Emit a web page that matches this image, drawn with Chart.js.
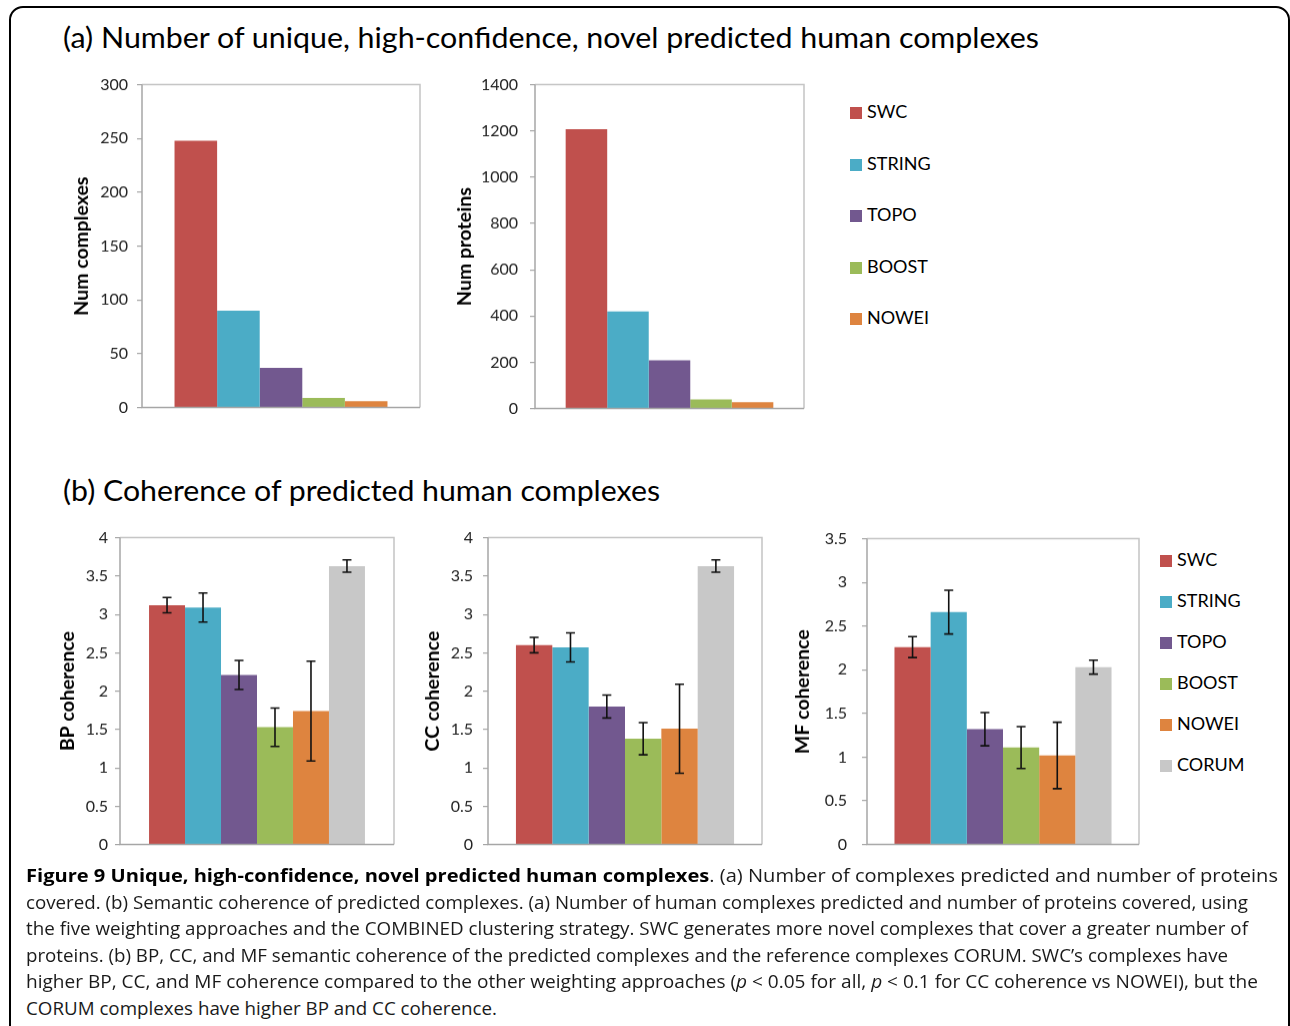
<!DOCTYPE html>
<html>
<head>
<meta charset="utf-8">
<script src="https://cdn.jsdelivr.net/npm/chart.js@4.4.1/dist/chart.umd.min.js"></script>
<style>
  html, body { margin:0; padding:0; background:#fff; }
  body { width:1290px; height:1026px; position:relative; overflow:hidden; font-family:'Lato', sans-serif; color:#000; }
  .frame { position:absolute; left:9px; top:6px; width:1277px; height:1030px; border:2px solid #000; border-radius:14px; }
  .box { position:absolute; }
  .title { position:absolute; font-family:'Lato', sans-serif; font-size:28px; line-height:28px; white-space:nowrap; transform-origin:left center; }
  .legend { position:absolute; font-family:'Lato', sans-serif; font-size:18px; }
  .legend .item { position:absolute; left:0; white-space:nowrap; line-height:18px; }
  .legend .sw { display:inline-block; width:12px; height:12px; margin-right:5px; vertical-align:-1px; }
  .cap { position:absolute; left:26px; font-family:'Open Sans', sans-serif; font-size:18px; line-height:20px; white-space:nowrap; transform-origin:left center; color:#1a1a1a; }
  .cap b { font-weight:700; color:#000; }
</style>
</head>
<body>
<div class="frame"></div>

<div class="title" data-w="976" style="left:63px; top:23px;">(a) Number of unique, high-confidence, novel predicted human complexes</div>
<div class="title" data-w="597" style="left:63px; top:476px;">(b) Coherence of predicted human complexes</div>

<div class="box" id="b1"><canvas id="c1"></canvas></div>
<div class="box" id="b2"><canvas id="c2"></canvas></div>
<div class="legend" id="legA" style="left:850px; top:0px;"></div>

<div class="box" id="b3"><canvas id="c3"></canvas></div>
<div class="box" id="b4"><canvas id="c4"></canvas></div>
<div class="box" id="b5"><canvas id="c5"></canvas></div>
<div class="legend" id="legB" style="left:1160px; top:0px;"></div>

<div class="cap" data-w="1252" style="top:865px;"><b>Figure 9 Unique, high-confidence, novel predicted human complexes</b>. (a) Number of complexes predicted and number of proteins</div>
<div class="cap" data-w="1222" style="top:891.5px;">covered. (b) Semantic coherence of predicted complexes. (a) Number of human complexes predicted and number of proteins covered, using</div>
<div class="cap" data-w="1222" style="top:918px;">the five weighting approaches and the COMBINED clustering strategy. SWC generates more novel complexes that cover a greater number of</div>
<div class="cap" data-w="1202" style="top:944.5px;">proteins. (b) BP, CC, and MF semantic coherence of the predicted complexes and the reference complexes CORUM. SWC’s complexes have</div>
<div class="cap" data-w="1232" style="top:971px;">higher BP, CC, and MF coherence compared to the other weighting approaches (<i>p</i> &lt; 0.05 for all, <i>p</i> &lt; 0.1 for CC coherence vs NOWEI), but the</div>
<div class="cap" data-w="471" style="top:997.5px;">CORUM complexes have higher BP and CC coherence.</div>

<script>
// ---------- DATA ----------
const seriesA = ['SWC', 'STRING', 'TOPO', 'BOOST', 'NOWEI'];
const seriesB = ['SWC', 'STRING', 'TOPO', 'BOOST', 'NOWEI', 'CORUM'];
const numComplexes = [248, 90, 37, 9, 6];
const numProteins = [1208, 420, 208, 39, 27];
const bpMean = [3.12, 3.09, 2.21, 1.53, 1.74, 3.63];
const bpErr  = [0.10, 0.19, 0.19, 0.25, 0.65, 0.08];
const ccMean = [2.60, 2.57, 1.80, 1.38, 1.51, 3.63];
const ccErr  = [0.10, 0.19, 0.15, 0.21, 0.58, 0.08];
const mfMean = [2.26, 2.66, 1.32, 1.11, 1.02, 2.03];
const mfErr  = [0.12, 0.25, 0.19, 0.24, 0.38, 0.08];
const complexTicks = [0, 50, 100, 150, 200, 250, 300];
const proteinTicks = [0, 200, 400, 600, 800, 1000, 1200, 1400];
const coherenceTicks = [0, 0.5, 1, 1.5, 2, 2.5, 3, 3.5, 4];
const mfTicks = [0, 0.5, 1, 1.5, 2, 2.5, 3, 3.5];
const seriesColors = ['#C0504D', '#4BACC6', '#72588F', '#9BBB59', '#DE843F', '#C8C8C8'];

// ---------- STYLE ----------
const AXIS = '#A6A6A6';
const FRAME = '#C4C4C4';
const TICK_SIZE = 16, TICK_LEN = 5, TITLE_SIZE = 19.5;
const tickFont = { family: 'Lato', size: TICK_SIZE };
const titleFont = { family: 'Lato', size: TITLE_SIZE, weight: 'bold' };

const framePlugin = {
  id: 'plotFrame',
  afterDraw(chart) {
    const { ctx, chartArea: a } = chart;
    ctx.save();
    ctx.lineWidth = 1.5;
    ctx.strokeStyle = FRAME;
    ctx.beginPath();
    ctx.moveTo(a.left, a.top); ctx.lineTo(a.right, a.top); ctx.lineTo(a.right, a.bottom);
    ctx.stroke();
    ctx.strokeStyle = AXIS;
    ctx.beginPath();
    ctx.moveTo(a.left, a.top); ctx.lineTo(a.left, a.bottom); ctx.lineTo(a.right, a.bottom);
    ctx.stroke();
    ctx.restore();
  }
};

const errorBarPlugin = {
  id: 'errorBars',
  afterDatasetsDraw(chart) {
    const errs = chart.options.plugins.errorBars && chart.options.plugins.errorBars.errors;
    if (!errs) return;
    const { ctx } = chart; const y = chart.scales.y;
    ctx.save();
    ctx.strokeStyle = '#111';
    ctx.lineWidth = 1.6;
    chart.data.datasets.forEach((ds, i) => {
      chart.getDatasetMeta(i).data.forEach((bar, j) => {
        const v = ds.data[j], e = errs[i];
        const yt = y.getPixelForValue(v + e), yb = y.getPixelForValue(v - e);
        const x = bar.x, w = 4.5;
        ctx.beginPath();
        ctx.moveTo(x, yt); ctx.lineTo(x, yb);
        ctx.moveTo(x - w, yt); ctx.lineTo(x + w, yt);
        ctx.moveTo(x - w, yb); ctx.lineTo(x + w, yb);
        ctx.stroke();
      });
    });
    ctx.restore();
  }
};

// cfg.area = plot area in page pixels; cfg.labelRight = right edge of tick labels; cfg.titleX = centre of axis title
function makeChart(boxId, canvasId, cfg) {
  const a = cfg.area;
  const tickPad = a.l - TICK_LEN - cfg.labelRight;
  const vExtra = TICK_SIZE * 1.2 / 2 + tickPad;   // chart.js reserves half label height + padding top/bottom
  const axisW = cfg.axisW;
  const padRight = 4;
  const box = document.getElementById(boxId);
  const left = a.l - axisW;
  box.style.left = left + 'px';
  box.style.top = (a.t - vExtra) + 'px';
  box.style.width = (axisW + (a.r - a.l) + padRight) + 'px';
  box.style.height = ((a.b - a.t) + 2 * vExtra) + 'px';
  const titlePad = cfg.titleX - left - TITLE_SIZE * 1.2 / 2;

  const datasets = cfg.names.map((n, i) => ({
    label: n,
    data: [cfg.values[i]],
    backgroundColor: seriesColors[i],
    borderWidth: 0,
    barPercentage: 1,
    categoryPercentage: cfg.catPct
  }));
  return new Chart(document.getElementById(canvasId), {
    type: 'bar',
    data: { labels: [''], datasets },
    options: {
      responsive: true,
      maintainAspectRatio: false,
      animation: false,
      events: [],
      layout: { padding: { top: 0, right: padRight, bottom: 0, left: 0 } },
      plugins: {
        legend: { display: false },
        tooltip: { enabled: false },
        errorBars: { errors: cfg.errors || null }
      },
      scales: {
        x: {
          grid: { display: false, drawTicks: false },
          border: { display: false },
          ticks: { display: false }
        },
        y: {
          min: cfg.ticks[0],
          max: cfg.ticks[cfg.ticks.length - 1],
          afterBuildTicks: (axis) => { axis.ticks = cfg.ticks.map(v => ({ value: v })); },
          afterFit: (axis) => { axis.width = axisW; },
          grid: { drawOnChartArea: false, drawTicks: true, tickLength: TICK_LEN, color: AXIS, lineWidth: 1.2 },
          border: { display: false },
          ticks: { font: tickFont, color: '#222', padding: tickPad, callback: v => String(v) },
          title: { display: true, text: cfg.yTitle, font: titleFont, color: '#000', padding: { top: titlePad, bottom: 0 } }
        }
      }
    },
    plugins: [framePlugin, errorBarPlugin]
  });
}

makeChart('b1', 'c1', { names: seriesA, values: numComplexes, ticks: complexTicks, yTitle: 'Num complexes',
  catPct: 0.766, axisW: 80, area: { l: 142, t: 85, r: 420, b: 407 }, labelRight: 128, titleX: 82 });
makeChart('b2', 'c2', { names: seriesA, values: numProteins, ticks: proteinTicks, yTitle: 'Num proteins',
  catPct: 0.772, axisW: 90, area: { l: 535, t: 85, r: 804, b: 408 }, labelRight: 518, titleX: 465 });
makeChart('b3', 'c3', { names: seriesB, values: bpMean, errors: bpErr, ticks: coherenceTicks, yTitle: 'BP coherence',
  catPct: 0.788, axisW: 70, area: { l: 120, t: 538, r: 394, b: 844 }, labelRight: 108, titleX: 68 });
makeChart('b4', 'c4', { names: seriesB, values: ccMean, errors: ccErr, ticks: coherenceTicks, yTitle: 'CC coherence',
  catPct: 0.796, axisW: 75, area: { l: 488, t: 538, r: 762, b: 844 }, labelRight: 473, titleX: 433 });
makeChart('b5', 'c5', { names: seriesB, values: mfMean, errors: mfErr, ticks: mfTicks, yTitle: 'MF coherence',
  catPct: 0.798, axisW: 82, area: { l: 867, t: 539, r: 1139, b: 844 }, labelRight: 847, titleX: 803 });

// ---------- LEGENDS (from the same arrays) ----------
function buildLegend(id, names, y0, step) {
  const el = document.getElementById(id);
  names.forEach((n, i) => {
    const d = document.createElement('div');
    d.className = 'item';
    d.style.top = (y0 + i * step - 9) + 'px';
    d.innerHTML = '<span class="sw" style="background:' + seriesColors[i] + '"></span>' + n;
    el.appendChild(d);
  });
}
buildLegend('legA', seriesA, 111, 51.5);
buildLegend('legB', seriesB, 559, 41);

// ---------- fit text widths ----------
function fit() {
  document.querySelectorAll('[data-w]').forEach(el => {
    el.style.transform = 'none';
    const w = el.getBoundingClientRect().width;
    const t = parseFloat(el.dataset.w);
    if (w > 0) el.style.transform = 'scaleX(' + (t / w) + ')';
  });
}
if (document.fonts && document.fonts.ready) document.fonts.ready.then(fit);
fit();
</script>
</body>
</html>
